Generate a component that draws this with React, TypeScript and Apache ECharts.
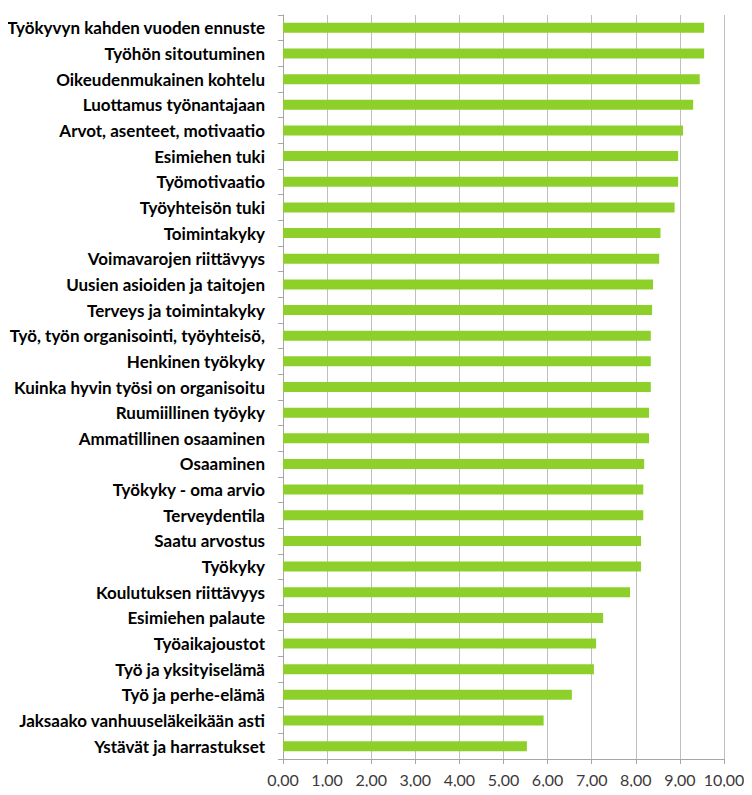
import React, { useEffect, useRef } from "react";
import * as echarts from "echarts";

const categories = [
  "Työkyvyn kahden vuoden ennuste",
  "Työhön sitoutuminen",
  "Oikeudenmukainen kohtelu",
  "Luottamus työnantajaan",
  "Arvot, asenteet, motivaatio",
  "Esimiehen tuki",
  "Työmotivaatio",
  "Työyhteisön tuki",
  "Toimintakyky",
  "Voimavarojen riittävyys",
  "Uusien asioiden ja taitojen",
  "Terveys ja toimintakyky",
  "Työ, työn organisointi, työyhteisö,",
  "Henkinen työkyky",
  "Kuinka hyvin työsi on organisoitu",
  "Ruumiillinen työyky",
  "Ammatillinen osaaminen",
  "Osaaminen",
  "Työkyky - oma arvio",
  "Terveydentila",
  "Saatu arvostus",
  "Työkyky",
  "Koulutuksen riittävyys",
  "Esimiehen palaute",
  "Työaikajoustot",
  "Työ ja yksityiselämä",
  "Työ ja perhe-elämä",
  "Jaksaako vanhuuseläkeikään asti",
  "Ystävät ja harrastukset",
];

const values = [
  9.55, 9.55, 9.45, 9.3, 9.07, 8.96, 8.96, 8.88, 8.56, 8.53, 8.39, 8.37, 8.34,
  8.34, 8.34, 8.3, 8.3, 8.19, 8.17, 8.17, 8.12, 8.12, 7.87, 7.26, 7.1, 7.05,
  6.55, 5.91, 5.53,
];

export default function App() {
  const ref = useRef<HTMLDivElement>(null);
  useEffect(() => {
    const chart = echarts.init(ref.current!, null, { renderer: "svg" });
    chart.setOption({
      animation: false,
      grid: { left: 283, right: 28, top: 15, bottom: 36, containLabel: false },
      xAxis: {
        type: "value",
        min: 0,
        max: 10,
        interval: 1,
        axisLine: { show: true, lineStyle: { color: "#a6a6a6", width: 1 } },
        axisTick: { show: true, length: 5, lineStyle: { color: "#a6a6a6" } },
        splitLine: { show: true, lineStyle: { color: "#bfbfbf", width: 1 } },
        axisLabel: {
          formatter: (v: number) => v.toFixed(2).replace(".", ","),
          color: "#3a3a3a",
          fontSize: 16,
          fontFamily: "Lato",
          margin: 12,
        },
      },
      yAxis: {
        type: "category",
        data: categories,
        inverse: true,
        axisLine: { show: true, lineStyle: { color: "#a6a6a6", width: 1 } },
        axisTick: { show: true, length: 5, lineStyle: { color: "#a6a6a6" } },
        splitLine: { show: false },
        axisLabel: {
          color: "#000",
          fontSize: 17,
          fontWeight: "bold",
          fontFamily: "Lato",
          margin: 18,
        },
      },
      series: [
        {
          type: "bar",
          data: values,
          barWidth: 10,
          itemStyle: { color: "#8ed02a" },
        },
      ],
    });
    return () => chart.dispose();
  }, []);
  return <div ref={ref} style={{ width: 752, height: 795, margin: -8 }} />;
}
